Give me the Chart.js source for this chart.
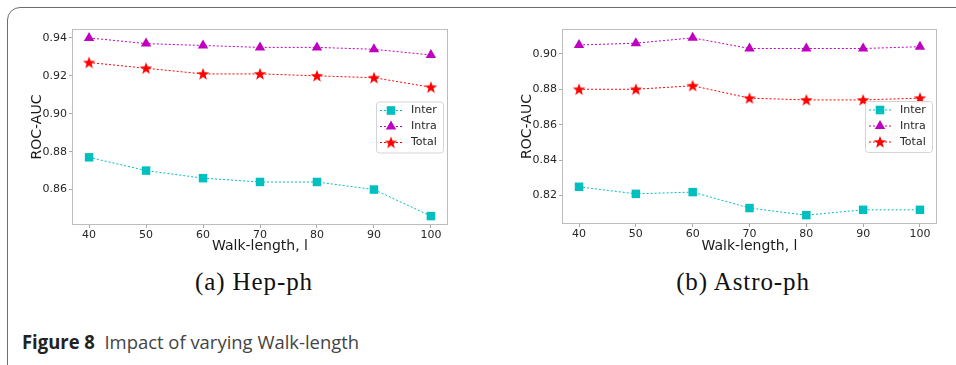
<!DOCTYPE html>
<html>
<head>
<meta charset="utf-8">
<script src="https://cdn.jsdelivr.net/npm/chart.js@4.4.0/dist/chart.umd.min.js"></script>
<style>
  body { margin: 0; background: #fff; width: 956px; height: 365px; overflow: hidden; position: relative; }
  .frame { position: absolute; left: 7px; top: 7px; width: 980px; height: 390px; border: 1.5px solid #6e6e6e; border-top-left-radius: 13px; }
  canvas { position: absolute; top: 0; }
  #hep { left: 0; }
  #astro { left: 480px; }
  .sub { position: absolute; top: 268px; width: 240px; text-align: center; font-family: "Liberation Serif"; font-size: 25px; letter-spacing: 0.9px; color: #111; }
  .caption { position: absolute; left: 22px; top: 329px; font-family: "Open Sans"; font-size: 19px; color: #444; white-space: pre; transform: scaleX(0.97); transform-origin: left top; }
  .caption b { color: #222; }
</style>
</head>
<body>
<div class="frame"></div>
<canvas id="hep" width="480" height="262"></canvas>
<canvas id="astro" width="476" height="262"></canvas>
<div class="sub" style="left:134px">(a) Hep-ph</div>
<div class="sub" style="left:623px">(b) Astro-ph</div>
<div class="caption"><b>Figure 8</b>  Impact of varying Walk-length</div>

<script>
// values
const walkLength = [40, 50, 60, 70, 80, 90, 100];
const seriesNames = ['Inter', 'Intra', 'Total'];
const seriesColors = ['#00bfbf', '#bf00bf', '#ff0000'];

const hepInter = [0.877, 0.870, 0.866, 0.864, 0.864, 0.860, 0.846];
const hepIntra = [0.940, 0.937, 0.936, 0.935, 0.935, 0.934, 0.931];
const hepTotal = [0.927, 0.924, 0.921, 0.921, 0.920, 0.919, 0.914];

const astroInter = [0.825, 0.821, 0.822, 0.813, 0.809, 0.812, 0.812];
const astroIntra = [0.905, 0.906, 0.909, 0.903, 0.903, 0.903, 0.904];
const astroTotal = [0.880, 0.880, 0.882, 0.875, 0.874, 0.874, 0.875];

const xLabel = 'Walk-length, l';
const yLabel = 'ROC-AUC';

// filled star marker (chart.js 'star' is only a cross)
function makeStar(color) {
  const c = document.createElement('canvas');
  c.width = 14; c.height = 14;
  const g = c.getContext('2d');
  g.beginPath();
  for (let i = 0; i < 10; i++) {
    const r = i % 2 === 0 ? 6.5 : 2.7;
    const a = -Math.PI / 2 + i * Math.PI / 5;
    g.lineTo(7 + r * Math.cos(a), 7.4 + r * Math.sin(a));
  }
  g.closePath();
  g.fillStyle = color;
  g.fill();
  return c;
}
const starImg = makeStar('#ff0000');
const markers = ['rect', 'triangle', starImg];

function drawMarker(ctx, i, x, y) {
  ctx.fillStyle = seriesColors[i];
  if (i === 0) {
    ctx.fillRect(x - 4.3, y - 4.3, 8.6, 8.6);
  } else if (i === 1) {
    ctx.beginPath();
    ctx.moveTo(x, y - 6);
    ctx.lineTo(x + 5.2, y + 3);
    ctx.lineTo(x - 5.2, y + 3);
    ctx.closePath();
    ctx.fill();
  } else {
    ctx.drawImage(starImg, x - 7, y - 7);
  }
}

// spines all round + legend in the middle right, like matplotlib
const mplBox = {
  id: 'mplBox',
  afterDraw(chart) {
    const ctx = chart.ctx;
    const a = chart.chartArea;
    ctx.save();
    ctx.strokeStyle = '#bdbdbd';
    ctx.lineWidth = 1;
    ctx.strokeRect(a.left + 0.5, a.top + 0.5, a.right - a.left - 1, a.bottom - a.top - 1);

    const w = 67, h = 51;
    const bx = a.right - 5 - w;
    const by = (a.top + a.bottom) / 2 - h / 2;
    ctx.fillStyle = 'rgba(255,255,255,0.85)';
    ctx.strokeStyle = '#d4d4d4';
    ctx.beginPath();
    ctx.roundRect(bx + 0.5, by + 0.5, w, h, 3);
    ctx.fill();
    ctx.stroke();

    ctx.font = '11px "DejaVu Sans"';
    ctx.textBaseline = 'middle';
    for (let i = 0; i < 3; i++) {
      const y = by + 9 + i * 16;
      ctx.strokeStyle = seriesColors[i];
      ctx.setLineDash([2, 2]);
      ctx.beginPath();
      ctx.moveTo(bx + 4, y);
      ctx.lineTo(bx + 26, y);
      ctx.stroke();
      ctx.setLineDash([]);
      drawMarker(ctx, i, bx + 15, y);
      ctx.fillStyle = '#262626';
      ctx.fillText(seriesNames[i], bx + 35, y);
    }
    ctx.restore();
  }
};

function makeChart(id, values, box) {
  const all = values.flat();
  const lo = Math.min(...all), hi = Math.max(...all);
  const pad = (hi - lo) * 0.05;
  const xPad = (walkLength[walkLength.length - 1] - walkLength[0]) * 0.05;
  const canvas = document.getElementById(id);

  new Chart(canvas, {
    type: 'line',
    data: {
      datasets: values.map((vals, i) => ({
        label: seriesNames[i],
        data: walkLength.map((x, j) => ({ x: x, y: vals[j] })),
        borderColor: seriesColors[i],
        backgroundColor: seriesColors[i],
        borderWidth: 1,
        borderDash: [2, 2],
        pointStyle: markers[i],
        pointRadius: 6,
        pointHoverRadius: 6,
        pointBorderWidth: 0,
        tension: 0
      }))
    },
    options: {
      responsive: false,
      animation: false,
      events: [],
      layout: { padding: { left: 0, top: box.top, right: canvas.width - box.right, bottom: 0 } },
      plugins: { legend: { display: false }, tooltip: { enabled: false } },
      scales: {
        x: {
          type: 'linear',
          min: walkLength[0] - xPad,
          max: walkLength[walkLength.length - 1] + xPad,
          afterFit: (s) => { s.height = canvas.height - box.bottom; },
          border: { display: false },
          grid: { drawOnChartArea: false, drawTicks: true, tickLength: 3, color: '#aaaaaa' },
          ticks: { stepSize: 10, includeBounds: false, padding: 1, color: '#262626', font: { family: 'DejaVu Sans', size: 11 } },
          title: { display: true, text: xLabel, color: '#1a1a1a', font: { family: 'DejaVu Sans', size: 14 }, padding: { top: 0, bottom: 7 } }
        },
        y: {
          min: lo - pad,
          max: hi + pad,
          afterFit: (s) => { s.width = box.left; },
          border: { display: false },
          grid: { drawOnChartArea: false, drawTicks: true, tickLength: 3, color: '#aaaaaa' },
          ticks: { stepSize: 0.02, includeBounds: false, padding: 2, color: '#262626', font: { family: 'DejaVu Sans', size: 11 },
                   callback: (v) => v.toFixed(2) },
          title: { display: true, text: yLabel, color: '#1a1a1a', font: { family: 'DejaVu Sans', size: 14 }, padding: { top: box.titleX - 8.4, bottom: 0 } }
        }
      }
    },
    plugins: [mplBox]
  });
}

makeChart('hep', [hepInter, hepIntra, hepTotal], { left: 72, top: 29, right: 448, bottom: 225, titleX: 37 });
makeChart('astro', [astroInter, astroIntra, astroTotal], { left: 82, top: 29, right: 457, bottom: 224, titleX: 47 });
</script>
</body>
</html>
